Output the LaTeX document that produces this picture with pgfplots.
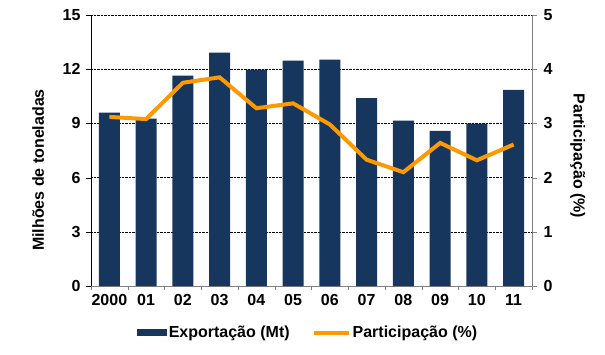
\documentclass[border=0pt]{standalone}
\usepackage{fontspec}
\setmainfont{Liberation Sans}
\usepackage{pgfplots}
\pgfplotsset{compat=1.18}
\definecolor{navy}{RGB}{23,54,93}
\definecolor{orng}{RGB}{255,153,0}
\begin{document}
\begin{tikzpicture}
\useasboundingbox (-91pt,-68pt) rectangle (514pt,286pt);
\begin{axis}[
  at={(0,0)}, anchor=south west,
  scale only axis, width=441pt, height=271pt,
  xmin=-0.5, xmax=11.5, ymin=0, ymax=15,
  axis x line*=bottom, axis y line*=left,
  x axis line style={-, gray},
  y axis line style={-, black},
  ytick={0,3,...,15},
  xtick={0,...,11},
  xticklabels={2000,01,02,03,04,05,06,07,08,09,10,11},
  minor xtick={-0.5,0.5,...,11.5},
  major x tick style={draw=none},
  minor x tick style={gray},
  ytick style={black},
  tick align=outside,
  major tick length=5pt, minor tick length=4pt,
  ymajorgrids, grid style={black, densely dotted, line width=0.5pt},
  /pgf/number format/assume math mode=true,
  tick label style={font=\fontsize{16}{18}\selectfont\bfseries},
  yticklabel style={xshift=-2pt},
  ylabel={Milhões de toneladas},
  every axis y label/.style={at={(axis description cs:-0.120,0.428)}, rotate=90, anchor=center, font=\fontsize{16}{18}\selectfont\bfseries},
  legend columns=2,
  legend style={at={(axis description cs:0.492,-0.173)}, anchor=center, draw=none, fill=none,
    font=\fontsize{16}{18}\selectfont\bfseries,
    /tikz/every even column/.style={column sep=20pt}},
]
\addplot[fill=navy, draw=none, ybar, bar width=21pt,
  legend image code/.code={\fill[navy] (0pt,-3.5pt) rectangle (30pt,3.5pt);}]
  coordinates {(0,9.6) (1,9.26) (2,11.64) (3,12.92) (4,11.98) (5,12.47) (6,12.53) (7,10.4) (8,9.15) (9,8.58) (10,8.99) (11,10.85)};
\addlegendentry{Exportação (Mt)}
\addlegendimage{orng, line width=4pt, legend image code/.code={\draw[orng, line width=4pt] (0pt,0pt) -- (35pt,0pt);}}
\addlegendentry{Participação (\%)}
\end{axis}
\begin{axis}[
  at={(0,0)}, anchor=south west,
  scale only axis, width=441pt, height=271pt,
  xmin=-0.5, xmax=11.5, ymin=0, ymax=5,
  axis x line=none, axis y line*=right,
  y axis line style={-, gray},
  ytick={0,...,5},
  ytick style={gray},
  tick align=outside, major tick length=5pt,
  /pgf/number format/assume math mode=true,
  tick label style={font=\fontsize{16}{18}\selectfont\bfseries},
  yticklabel style={xshift=3pt},
  ylabel={Participação (\%)},
  every axis y label/.style={at={(axis description cs:1.104,0.48)}, rotate=-90, anchor=center, font=\fontsize{16}{18}\selectfont\bfseries},
]
\addplot[orng, line width=4pt] coordinates {(0,3.12) (1,3.08) (2,3.75) (3,3.85) (4,3.28) (5,3.37) (6,2.98) (7,2.33) (8,2.10) (9,2.64) (10,2.32) (11,2.61)};
\end{axis}
\end{tikzpicture}
\end{document}
